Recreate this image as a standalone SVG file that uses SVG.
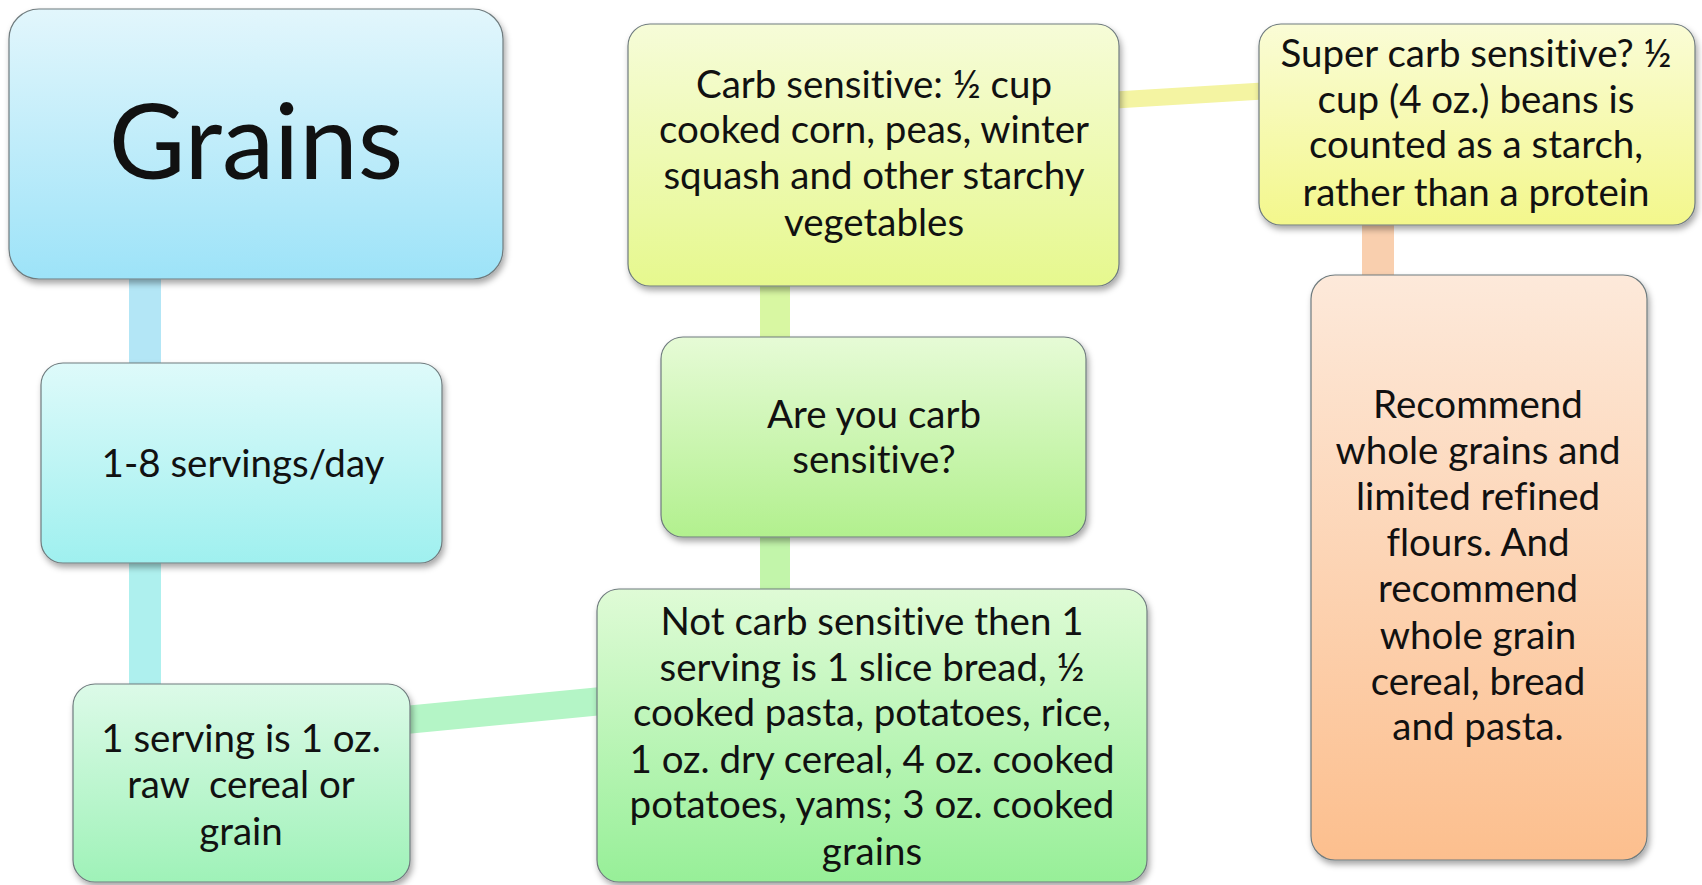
<svg xmlns="http://www.w3.org/2000/svg" width="1702" height="885" viewBox="0 0 1702 885">
<defs>
<filter id="sh" x="-10%" y="-10%" width="130%" height="130%">
<feDropShadow dx="2" dy="4" stdDeviation="3" flood-color="#000" flood-opacity="0.35"/>
</filter>
<linearGradient id="gBlue" x1="0" y1="0" x2="0" y2="1"><stop offset="0" stop-color="#e2f6fc"/><stop offset="1" stop-color="#9de3f8"/></linearGradient>
<linearGradient id="gCyan" x1="0" y1="0" x2="0" y2="1"><stop offset="0" stop-color="#defafa"/><stop offset="1" stop-color="#9ff0ef"/></linearGradient>
<linearGradient id="gMint" x1="0" y1="0" x2="0" y2="1"><stop offset="0" stop-color="#dcfae8"/><stop offset="1" stop-color="#9ff2b8"/></linearGradient>
<linearGradient id="gGreen" x1="0" y1="0" x2="0" y2="1"><stop offset="0" stop-color="#dffbd6"/><stop offset="1" stop-color="#97ef98"/></linearGradient>
<linearGradient id="gLime" x1="0" y1="0" x2="0" y2="1"><stop offset="0" stop-color="#e6fbd6"/><stop offset="1" stop-color="#b2f08e"/></linearGradient>
<linearGradient id="gYG" x1="0" y1="0" x2="0" y2="1"><stop offset="0" stop-color="#f6fcd8"/><stop offset="1" stop-color="#e6f88e"/></linearGradient>
<linearGradient id="gYel" x1="0" y1="0" x2="0" y2="1"><stop offset="0" stop-color="#fafcd6"/><stop offset="1" stop-color="#f3f78c"/></linearGradient>
<linearGradient id="gPeach" x1="0" y1="0" x2="0" y2="1"><stop offset="0" stop-color="#fde9da"/><stop offset="1" stop-color="#fcbf8e"/></linearGradient>
</defs>
<style>
.box{stroke:#6f7b7e;stroke-width:1.2;filter:url(#sh)}
.t{font-family:Lato,"Liberation Sans",sans-serif;font-size:38.5px;fill:#111;text-anchor:middle;font-variant-ligatures:none}
.c{fill:none;stroke-linecap:butt}
</style>
<rect width="1702" height="885" fill="#fff"/>
<g id="connectors">
<line class="c" x1="145" y1="275" x2="145" y2="366" stroke="#b3e6f6" stroke-width="32"/>
<line class="c" x1="145" y1="560" x2="145" y2="688" stroke="#aef0ee" stroke-width="32"/>
<line class="c" x1="405" y1="720" x2="602" y2="701" stroke="#b4f5c6" stroke-width="28"/>
<line class="c" x1="775" y1="533" x2="775" y2="593" stroke="#c2f5aa" stroke-width="30"/>
<line class="c" x1="775" y1="282" x2="775" y2="341" stroke="#d8f7a2" stroke-width="30"/>
<line class="c" x1="1115" y1="100" x2="1263" y2="91" stroke="#f4f4a2" stroke-width="17"/>
<line class="c" x1="1378" y1="221" x2="1378" y2="279" stroke="#f9cfae" stroke-width="32"/>
</g>
<g id="grains">
<rect class="box" x="9" y="9" width="494" height="270" rx="30" fill="url(#gBlue)"/>
<text class="t" x="256" y="179" style="font-size:105px">Grains</text>
</g>
<g id="servings-day">
<rect class="box" x="41" y="363" width="401" height="200" rx="22" fill="url(#gCyan)"/>
<text class="t" x="243" y="477">1-8 servings/day</text>
</g>
<g id="one-serving">
<rect class="box" x="73" y="684" width="337" height="198" rx="22" fill="url(#gMint)"/>
<text class="t"><tspan x="241" y="752">1 serving is 1 oz.</tspan><tspan x="241" y="798">raw&#160; cereal or</tspan><tspan x="241" y="845">grain</tspan></text>
</g>
<g id="carb-sensitive">
<rect class="box" x="628" y="24" width="491" height="262" rx="22" fill="url(#gYG)"/>
<text class="t"><tspan x="874" y="98">Carb sensitive: ½ cup</tspan><tspan x="874" y="143">cooked corn, peas, winter</tspan><tspan x="874" y="189">squash and other starchy</tspan><tspan x="874" y="236">vegetables</tspan></text>
</g>
<g id="are-you">
<rect class="box" x="661" y="337" width="425" height="200" rx="22" fill="url(#gLime)"/>
<text class="t"><tspan x="874" y="428">Are you carb</tspan><tspan x="874" y="473">sensitive?</tspan></text>
</g>
<g id="not-carb">
<rect class="box" x="597" y="589" width="550" height="293" rx="22" fill="url(#gGreen)"/>
<text class="t"><tspan x="872" y="635">Not carb sensitive then 1</tspan><tspan x="872" y="681">serving is 1 slice bread, ½</tspan><tspan x="872" y="726">cooked pasta, potatoes, rice,</tspan><tspan x="872" y="773">1 oz. dry cereal, 4 oz. cooked</tspan><tspan x="872" y="818">potatoes, yams; 3 oz. cooked</tspan><tspan x="872" y="865">grains</tspan></text>
</g>
<g id="super-carb">
<rect class="box" x="1259" y="24" width="436" height="201" rx="22" fill="url(#gYel)"/>
<text class="t"><tspan x="1476" y="67">Super carb sensitive? ½</tspan><tspan x="1476" y="113">cup (4 oz.) beans is</tspan><tspan x="1476" y="158">counted as a starch,</tspan><tspan x="1476" y="206">rather than a protein</tspan></text>
</g>
<g id="recommend">
<rect class="box" x="1311" y="275" width="336" height="585" rx="24" fill="url(#gPeach)"/>
<text class="t"><tspan x="1478" y="418">Recommend</tspan><tspan x="1478" y="464">whole grains and</tspan><tspan x="1478" y="510">limited refined</tspan><tspan x="1478" y="556">flours. And</tspan><tspan x="1478" y="602">recommend</tspan><tspan x="1478" y="649">whole grain</tspan><tspan x="1478" y="695">cereal, bread</tspan><tspan x="1478" y="740">and pasta.</tspan></text>
</g>
</svg>
